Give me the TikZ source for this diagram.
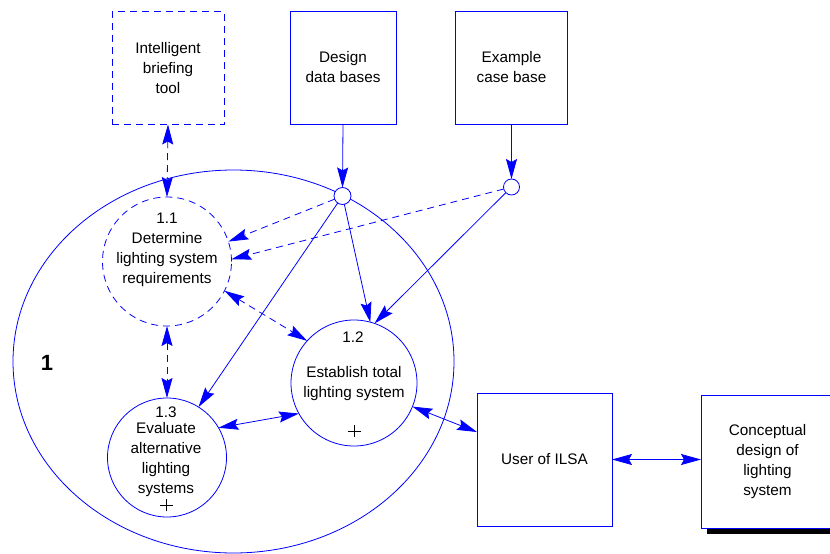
\documentclass[tikz,border=0pt]{standalone}
\usepackage{fontspec}
\setmainfont{Liberation Sans}
\usetikzlibrary{arrows.meta,shapes.geometric,shadows}
\definecolor{flow}{RGB}{0,0,255}
\begin{document}
\begin{tikzpicture}[x=1pt,y=-1pt,
  every node/.style={inner sep=0pt, outer sep=0pt, text=black,
    font=\fontsize{15.3}{20}\selectfont},
  line/.style={draw=flow, line width=0.8pt},
  dashline/.style={dash pattern=on 7pt off 5pt},
  extbox/.style={line, rectangle, align=center, minimum height=113pt},
  proc/.style={line, circle},
  junct/.style={line, circle, fill=white},
  flowarrow/.style={line, -{Stealth[length=20pt,width=11pt,inset=3pt]}},
  both/.style={line, {Stealth[length=20pt,width=11pt,inset=3pt]}-{Stealth[length=20pt,width=11pt,inset=3pt]}},
  txt/.style={align=center},
  plus/.style={draw=black, line width=0.7pt}
]
\clip (0,0) rectangle (830,554);

% external entities
\node[extbox, dashline, minimum width=112pt] (ibt) at (168,68) {Intelligent\\briefing\\tool};
\node[extbox, minimum width=106pt] (ddb) at (343,67.5) {Design\\data bases};
\node[extbox, minimum width=112pt] (ecb) at (511.5,67.5) {Example\\case base};
\node[extbox, minimum width=135pt, minimum height=133pt] (user) at (544.5,459.5) {User of ILSA};
\node[extbox, minimum width=133pt, minimum height=133pt, fill=white,
  drop shadow={shadow xshift=6pt, shadow yshift=-6pt, fill=black, opacity=1}]
  (cds) at (767.5,461.5) {Conceptual\\design of\\lighting\\system};

% process 1 and its sub-processes
\node[line, ellipse, minimum width=441pt, minimum height=383pt] (proc1) at (233.5,361.5) {};
\node[font=\bfseries\fontsize{22}{26}\selectfont] (lbl1) at (47,363) {1};

\node[proc, dashline, minimum size=129pt] (p11) at (167,261.5) {};
\node[txt] (t11) at (167,250) {1.1\\Determine\\lighting system\\requirements};

\node[proc, minimum size=126pt] (p12) at (354,383) {};
\node (n12) at (353,337) {1.2};
\node[txt] (t12) at (354,383.5) {Establish total\\lighting system};
\coordinate (x12) at (354,431);
\draw[plus] ([xshift=-6.5pt]x12) -- ([xshift=6.5pt]x12) ([yshift=-6pt]x12) -- ([yshift=6pt]x12);

\node[proc, minimum size=119pt] (p13) at (167,457.5) {};
\node (n13) at (166,412) {1.3};
\node[txt] (t13) at (166,459.5) {Evaluate\\alternative\\lighting\\systems};
\coordinate (x13) at (166,505);
\draw[plus] ([xshift=-6.5pt]x13) -- ([xshift=6.5pt]x13) ([yshift=-6pt]x13) -- ([yshift=6pt]x13);

% data junctions
\node[junct, minimum size=17pt] (j1) at (342.5,196) {};
\node[junct, minimum size=16pt] (j2) at (511.5,187) {};

% flows
\draw[both, dashline] (ibt.south) -- (p11.north);
\draw[flowarrow] (ddb.south) -- (j1.north);
\draw[flowarrow] (ecb.south) -- (j2.north);
\draw[flowarrow, dashline] (j1) -- (p11.18);
\draw[flowarrow, dashline] (j2) -- (p11.2);
\draw[flowarrow] (j1) -- (p13.58);
\draw[flowarrow] (j1) -- (p12.75);
\draw[flowarrow] (j2) -- (p12.71);
\draw[both, dashline] (p11.-27) -- (p12.138);
\draw[both, dashline] (p11.south) -- (p13.north);
\draw[both] (p13.30) -- (p12.-151);
\draw[both] (p12.-22) -- ([yshift=27.5pt]user.west);
\draw[both] (user.east) -- (cds.west |- user.east);
\end{tikzpicture}
\end{document}
